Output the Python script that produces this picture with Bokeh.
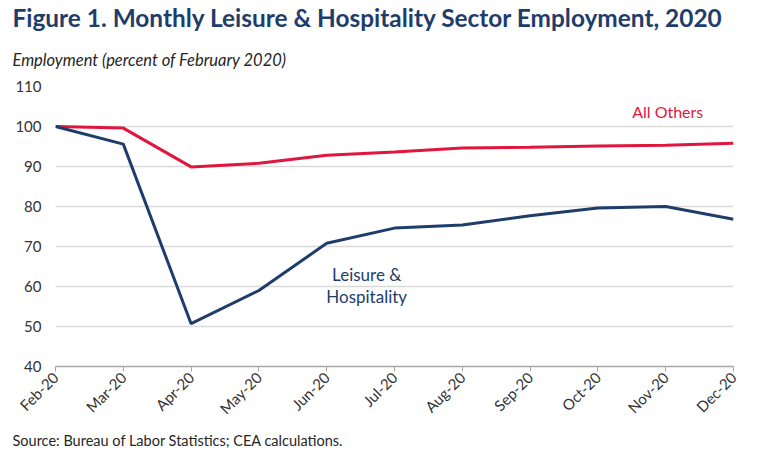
import math
from bokeh.plotting import figure
from bokeh.models import Label, ColumnDataSource, FixedTicker, Title
from bokeh.embed import file_html
from bokeh.resources import INLINE

months = ["Feb-20", "Mar-20", "Apr-20", "May-20", "Jun-20", "Jul-20",
          "Aug-20", "Sep-20", "Oct-20", "Nov-20", "Dec-20"]
leisure = [100.0, 95.6, 50.7, 59.0, 70.8, 74.6, 75.4, 77.7, 79.6, 80.0, 76.8]
all_others = [100.0, 99.6, 89.9, 90.8, 92.8, 93.6, 94.6, 94.8, 95.1, 95.3, 95.8]
y_ticks = [40, 50, 60, 70, 80, 90, 100, 110]

NAVY = "#1F3D6B"
RED = "#E0163E"
FONT = "Lato"

W, H = 752, 451
FL, FR, FT, FB = 55, 733, 86, 367  # frame edges in canvas pixels

idx = list(range(len(months)))
source = ColumnDataSource(dict(x=idx, leisure=leisure, others=all_others))

p = figure(width=W, height=H, output_backend="svg", toolbar_location=None,
           x_range=(0, len(months) - 1), y_range=(40, 110),
           min_border_left=FL, min_border_right=W - FR, min_border_top=FT,
           min_border_bottom=H - FB)
p.outline_line_color = None
p.background_fill_color = "white"

p.line("x", "others", source=source, line_color=RED, line_width=3)
p.line("x", "leisure", source=source, line_color=NAVY, line_width=3)

# axes
p.xaxis.ticker = FixedTicker(ticks=idx)
p.xaxis.major_label_overrides = {i: m for i, m in enumerate(months)}
p.xaxis.major_label_orientation = math.pi / 4
p.xaxis.axis_line_color = "#A6A6A6"
p.xaxis.axis_line_width = 1.5
p.xaxis.major_tick_line_color = "#A6A6A6"
p.xaxis.major_tick_out = 5
p.xaxis.major_tick_in = 0
p.xaxis.minor_tick_line_color = None
p.xaxis.major_label_text_font = FONT
p.xaxis.major_label_text_font_size = "15px"
p.xaxis.major_label_text_color = "#333333"
p.xaxis.major_label_standoff = 3

p.yaxis.ticker = FixedTicker(ticks=y_ticks)
p.yaxis.axis_line_color = None
p.yaxis.major_tick_line_color = None
p.yaxis.minor_tick_line_color = None
p.yaxis.major_label_text_font = FONT
p.yaxis.major_label_text_font_size = "15px"
p.yaxis.major_label_text_color = "#333333"
p.yaxis.major_label_standoff = 8

p.xgrid.grid_line_color = None
p.ygrid.grid_line_color = "#D9D9D9"
p.ygrid.grid_line_width = 1.5

# series labels (data coordinates)
p.add_layout(Label(x=9.03, y=103.8, text="All Others", text_color=RED,
                   text_font=FONT, text_font_size="16px", text_align="center",
                   text_baseline="middle"))
p.add_layout(Label(x=4.59, y=62.9, text="Leisure &", text_color=NAVY,
                   text_font=FONT, text_font_size="17px", text_align="center",
                   text_baseline="middle"))
p.add_layout(Label(x=4.59, y=57.4, text="Hospitality", text_color=NAVY,
                   text_font=FONT, text_font_size="17px", text_align="center",
                   text_baseline="middle"))

# main title (outer), subtitle added afterwards sits closer to the frame
p.title = Title(text="Figure 1. Monthly Leisure & Hospitality Sector Employment, 2020",
                align="left", offset=12 - FL, standoff=0, text_color=NAVY,
                text_font=FONT, text_font_style="bold", text_font_size="24.4px")
p.add_layout(Title(text="Employment (percent of February 2020)", align="left",
                   offset=12 - FL, standoff=33, text_color="#262626",
                   text_font=FONT, text_font_style="italic",
                   text_font_size="16.5px"), "above")
p.add_layout(Title(text="Source: Bureau of Labor Statistics; CEA calculations.",
                   align="left", offset=12 - FL, standoff=6, text_color="#262626",
                   text_font=FONT, text_font_style="normal",
                   text_font_size="14.5px"), "below")

open("out.html", "w").write(file_html(p, INLINE))
